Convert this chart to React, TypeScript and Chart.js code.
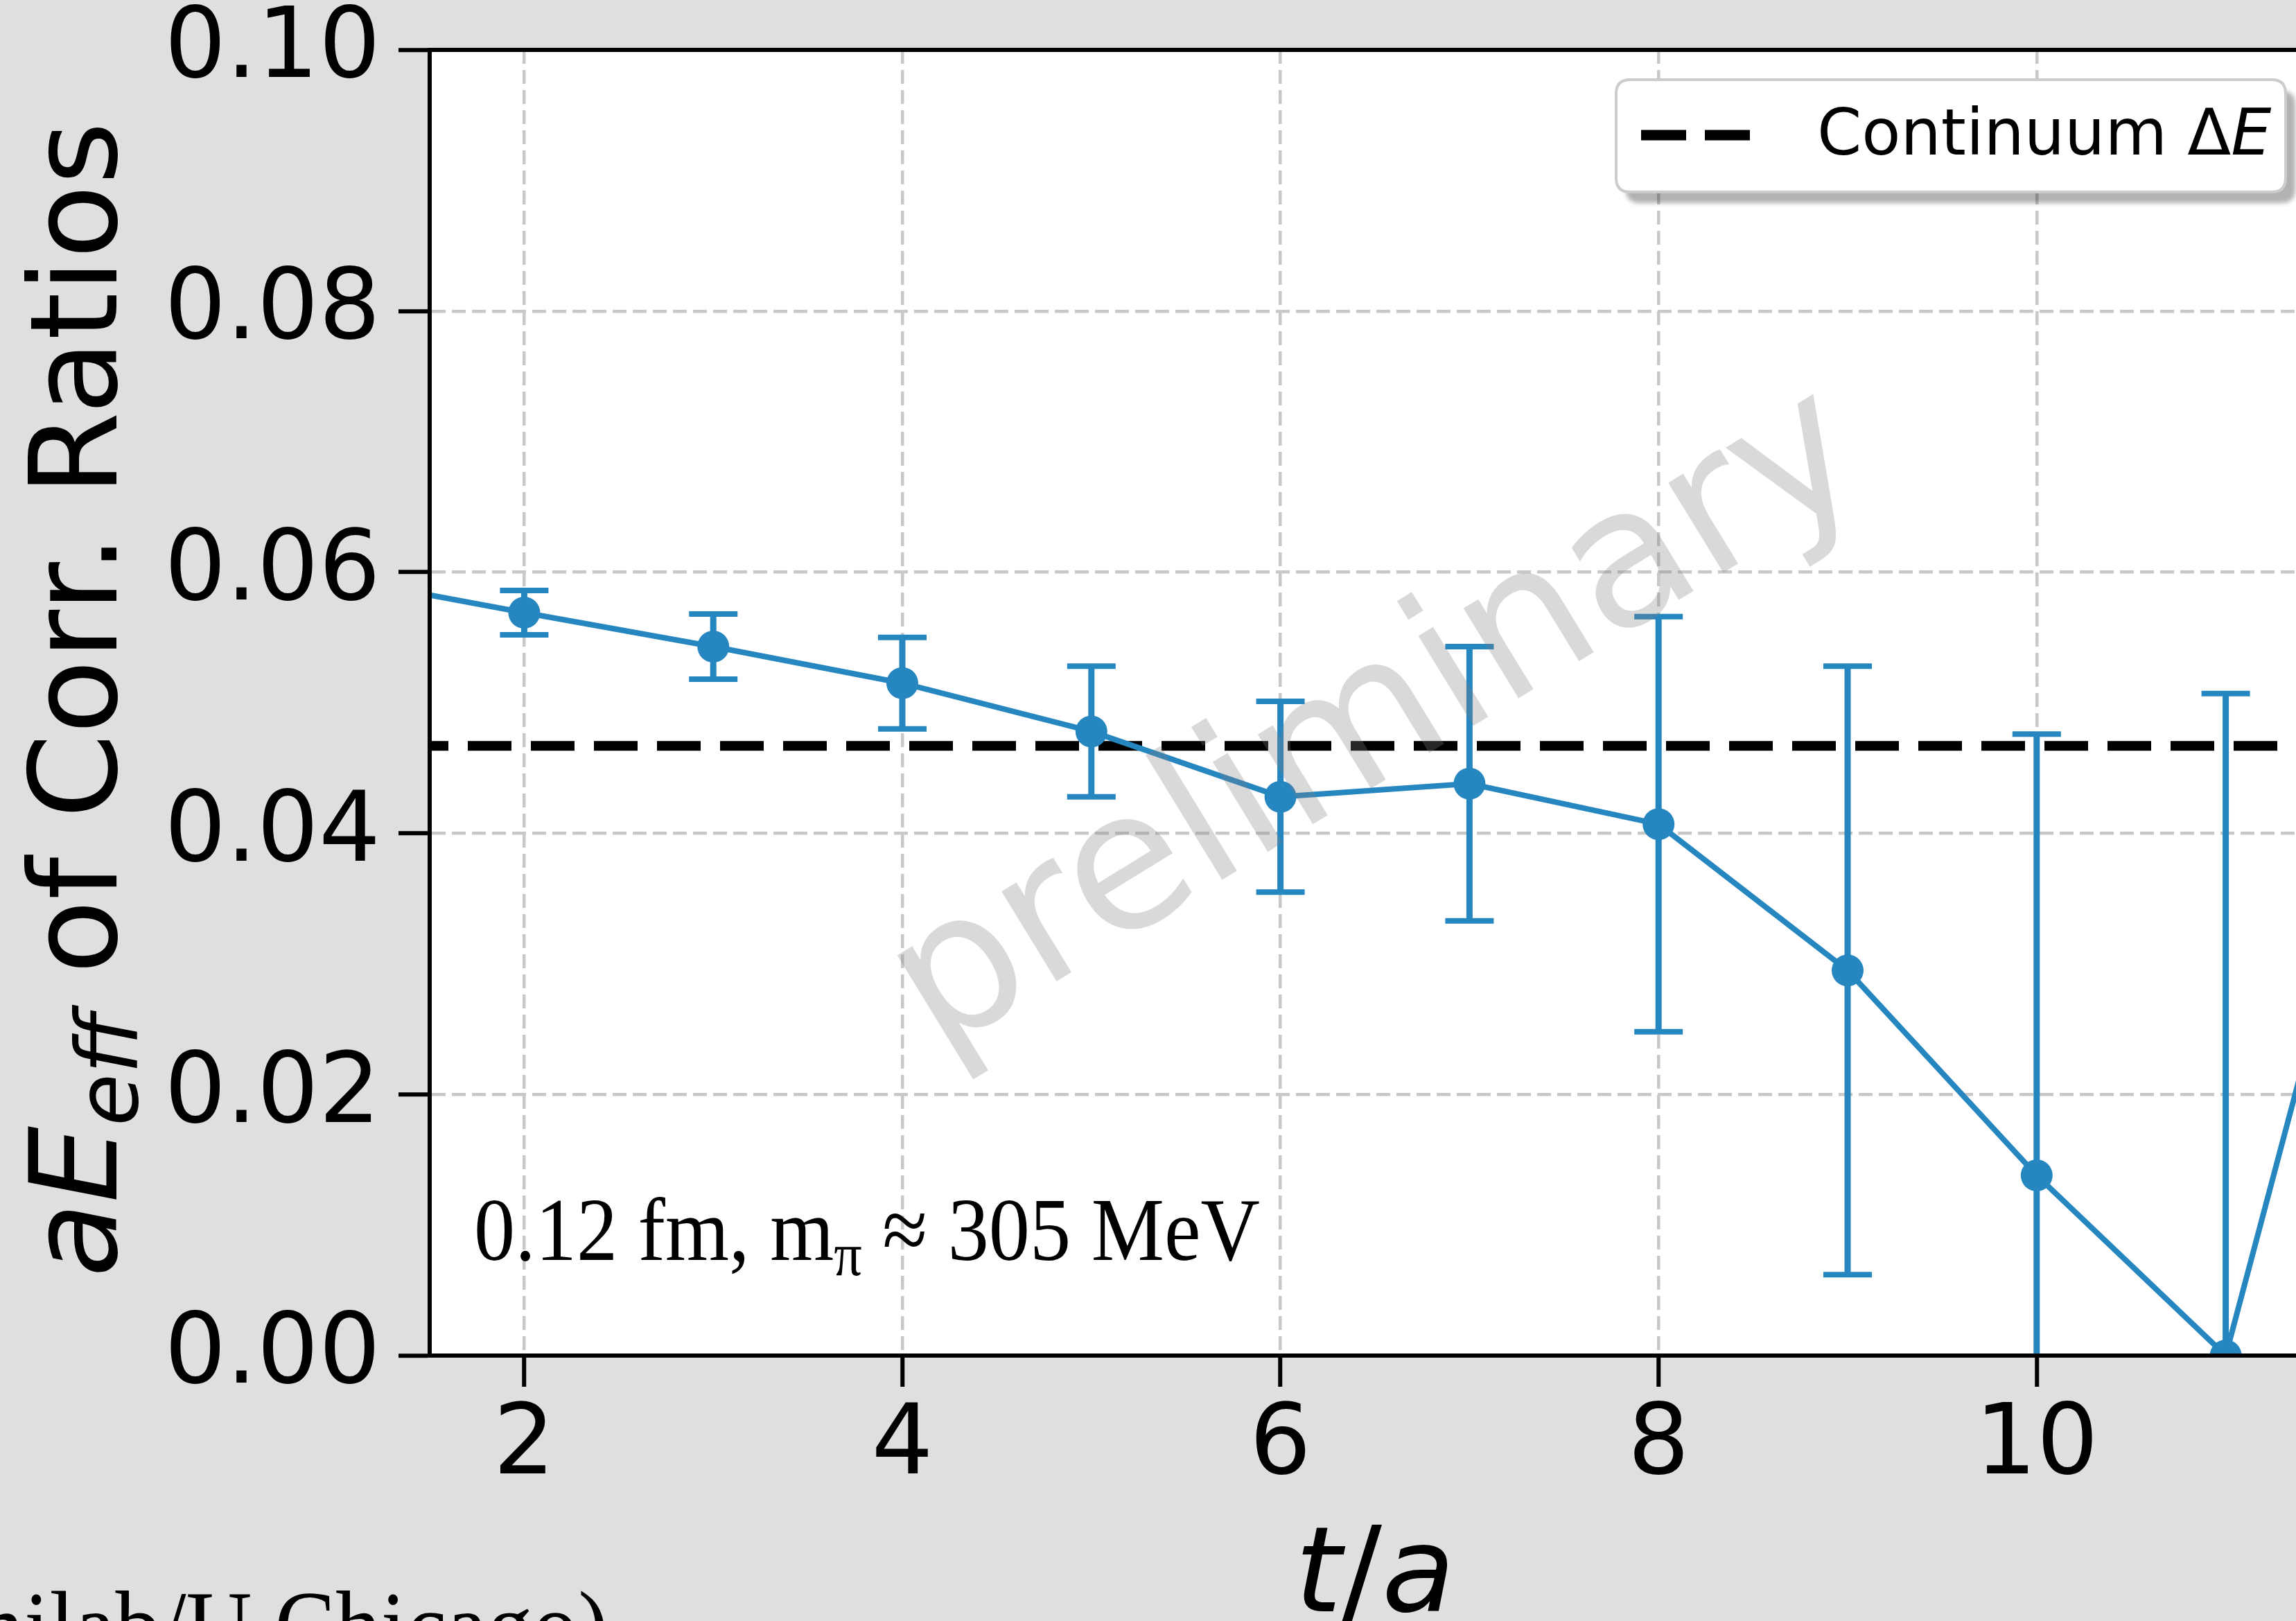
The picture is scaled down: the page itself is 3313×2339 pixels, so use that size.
import { useEffect, useRef } from "react";
import { Chart, registerables } from "chart.js";

Chart.register(...registerables);

// ---- data -------------------------------------------------------------
const T_STEPS = [1, 2, 3, 4, 5, 6, 7, 8, 9, 10, 11, 12];
const E_EFF = [0.0596, 0.0569, 0.0543, 0.0515, 0.0478, 0.0428, 0.0438, 0.0407, 0.0295, 0.0138, 0.0, 0.0545];
const E_ERR = [0.0013, 0.0017, 0.0025, 0.0035, 0.005, 0.0073, 0.0105, 0.0159, 0.0233, 0.0338, 0.0507, 0.07];
const CONTINUUM_DE = 0.0467;

const X_MIN = 1.5;
const X_MAX = 11.5;
const Y_MIN = 0;
const Y_MAX = 0.1;
const X_TICKS = [2, 4, 6, 8, 10];
const Y_TICKS = [0, 0.02, 0.04, 0.06, 0.08, 0.1];

const LEGEND_TEXT = "Continuum Δ";
const LEGEND_VAR = "E";
const ENSEMBLE_MAIN = "0.12 fm, m";
const ENSEMBLE_SUB = "π";
const ENSEMBLE_TAIL = " ≈ 305 MeV";
const CREDIT = "Fermilab/U Chicago)";
const WATERMARK = "preliminary";

// ---- look -------------------------------------------------------------
const W = 3400;
const H = 2339;
const AREA = { left: 620, top: 72, right: 3348, bottom: 1956 };
const BLUE = "rgb(37,134,192)";
const GRID = "#c8c8c8";
const FIG_BG = "#dfdfdf";
const SANS = "'DejaVu Sans'";
const SERIF = "'Liberation Serif'";
const TICK_FONT = 140;
const LABEL_FONT = 175;

const roundRect = (ctx: CanvasRenderingContext2D, x: number, y: number, w: number, h: number, r: number) => {
  ctx.beginPath();
  ctx.moveTo(x + r, y);
  ctx.lineTo(x + w - r, y);
  ctx.quadraticCurveTo(x + w, y, x + w, y + r);
  ctx.lineTo(x + w, y + h - r);
  ctx.quadraticCurveTo(x + w, y + h, x + w - r, y + h);
  ctx.lineTo(x + r, y + h);
  ctx.quadraticCurveTo(x, y + h, x, y + h - r);
  ctx.lineTo(x, y + r);
  ctx.quadraticCurveTo(x, y, x + r, y);
  ctx.closePath();
};

const backgroundPlugin = {
  id: "panelBackground",
  beforeDraw(chart: any) {
    const { ctx, chartArea: a } = chart;
    ctx.save();
    ctx.fillStyle = FIG_BG;
    ctx.fillRect(0, 0, chart.width, chart.height);
    ctx.fillStyle = "#ffffff";
    ctx.fillRect(a.left, a.top, a.right - a.left, a.bottom - a.top);
    ctx.restore();
  },
};

const errorBarPlugin = {
  id: "errorBars",
  beforeDatasetDraw(chart: any, args: any) {
    if (args.index !== 0) return;
    const { ctx, chartArea: a, scales } = chart;
    const x = scales.x;
    const y = scales.y;
    ctx.save();
    ctx.beginPath();
    ctx.rect(a.left, a.top, a.right - a.left, a.bottom - a.top);
    ctx.clip();
    ctx.strokeStyle = BLUE;
    ctx.lineCap = "butt";
    T_STEPS.forEach((t, i) => {
      const px = x.getPixelForValue(t);
      const top = y.getPixelForValue(E_EFF[i] + E_ERR[i]);
      const bot = y.getPixelForValue(E_EFF[i] - E_ERR[i]);
      ctx.lineWidth = 9;
      ctx.beginPath();
      ctx.moveTo(px, top);
      ctx.lineTo(px, bot);
      ctx.stroke();
      ctx.lineWidth = 8;
      ctx.beginPath();
      ctx.moveTo(px - 35, top);
      ctx.lineTo(px + 35, top);
      ctx.moveTo(px - 35, bot);
      ctx.lineTo(px + 35, bot);
      ctx.stroke();
    });
    ctx.restore();
  },
};

const watermarkPlugin = {
  id: "watermark",
  afterDatasetsDraw(chart: any) {
    const { ctx, chartArea: a } = chart;
    const cx = (a.left + a.right) / 2 + 6;
    const cy = (a.top + a.bottom) / 2 + 32;
    ctx.save();
    ctx.beginPath();
    ctx.rect(a.left, a.top, a.right - a.left, a.bottom - a.top);
    ctx.clip();
    ctx.translate(cx, cy);
    ctx.rotate((-31.5 * Math.PI) / 180);
    ctx.font = `278px ${SANS}`;
    ctx.fillStyle = "rgba(128,128,128,0.3)";
    ctx.textAlign = "center";
    ctx.textBaseline = "middle";
    ctx.fillText(WATERMARK, 0, 0);
    ctx.restore();
  },
};

const decorPlugin = {
  id: "decor",
  afterDraw(chart: any) {
    const { ctx, chartArea: a } = chart;
    ctx.save();

    // top and right spines
    ctx.strokeStyle = "#000";
    ctx.lineWidth = 6;
    ctx.beginPath();
    ctx.moveTo(a.left - 3, a.top);
    ctx.lineTo(a.right + 3, a.top);
    ctx.moveTo(a.right, a.top);
    ctx.lineTo(a.right, a.bottom);
    ctx.stroke();

    // y-axis title: aE_eff of Corr. Ratios
    const yl = LABEL_FONT;
    const yParts = [
      { text: "a", font: `italic ${yl}px ${SANS}`, dy: 0 },
      { text: "E", font: `italic ${yl}px ${SANS}`, dy: 0 },
      { text: "eff", font: `italic ${yl * 0.7}px ${SANS}`, dy: yl * 0.17 },
      { text: " of Corr. Ratios", font: `${yl}px ${SANS}`, dy: 0 },
    ];
    ctx.save();
    ctx.translate(168, (a.top + a.bottom) / 2 - 5);
    ctx.rotate(-Math.PI / 2);
    ctx.fillStyle = "#000";
    ctx.textBaseline = "alphabetic";
    ctx.textAlign = "left";
    let total = 0;
    yParts.forEach((p) => {
      ctx.font = p.font;
      total += ctx.measureText(p.text).width;
    });
    let cur = -total / 2;
    yParts.forEach((p) => {
      ctx.font = p.font;
      ctx.fillText(p.text, cur, p.dy);
      cur += ctx.measureText(p.text).width;
    });
    ctx.restore();

    // x-axis title: t/a
    const xl = 172;
    const xParts = [
      { text: "t", font: `italic ${xl}px ${SANS}` },
      { text: "/", font: `${xl}px ${SANS}` },
      { text: "a", font: `italic ${xl}px ${SANS}` },
    ];
    ctx.save();
    ctx.fillStyle = "#000";
    ctx.textBaseline = "alphabetic";
    ctx.textAlign = "left";
    let xt = 0;
    xParts.forEach((p) => {
      ctx.font = p.font;
      xt += ctx.measureText(p.text).width;
    });
    let xc = (a.left + a.right) / 2 - xt / 2;
    xParts.forEach((p) => {
      ctx.font = p.font;
      ctx.fillText(p.text, xc, 2325);
      xc += ctx.measureText(p.text).width;
    });
    ctx.restore();

    // ensemble annotation
    ctx.save();
    ctx.fillStyle = "#000";
    ctx.textBaseline = "alphabetic";
    ctx.translate(a.left + 64, a.bottom - 138);
    ctx.scale(0.91, 1);
    let ex = 0;
    ctx.font = `130px ${SERIF}`;
    ctx.fillText(ENSEMBLE_MAIN, ex, 0);
    ex += ctx.measureText(ENSEMBLE_MAIN).width;
    ctx.font = `88px ${SERIF}`;
    ctx.fillText(ENSEMBLE_SUB, ex, 22);
    ex += ctx.measureText(ENSEMBLE_SUB).width;
    ctx.font = `130px ${SERIF}`;
    ctx.fillText(ENSEMBLE_TAIL, ex, 0);
    ctx.restore();

    // credit line, cut by the lower edge
    ctx.save();
    ctx.fillStyle = "#000";
    ctx.textBaseline = "alphabetic";
    ctx.textAlign = "right";
    ctx.scale(0.9, 1);
    ctx.font = `146px ${SERIF}`;
    ctx.fillText(CREDIT, 878 / 0.9, 2397);
    ctx.restore();

    // legend
    const bw = 966;
    const bh = 162;
    const bx = a.right - 50 - bw;
    const by = a.top + 43;
    ctx.save();
    ctx.filter = "blur(3px)";
    ctx.fillStyle = "rgba(0,0,0,0.3)";
    roundRect(ctx, bx + 14, by + 16, bw, bh, 20);
    ctx.fill();
    ctx.restore();
    ctx.save();
    ctx.fillStyle = "#ffffff";
    ctx.strokeStyle = "#cccccc";
    ctx.lineWidth = 4;
    roundRect(ctx, bx, by, bw, bh, 20);
    ctx.fill();
    ctx.stroke();
    ctx.strokeStyle = "#000";
    ctx.lineWidth = 15;
    ctx.setLineDash([65, 27]);
    ctx.beginPath();
    ctx.moveTo(bx + 36, by + 80);
    ctx.lineTo(bx + 194, by + 80);
    ctx.stroke();
    ctx.setLineDash([]);
    ctx.fillStyle = "#000";
    ctx.textBaseline = "alphabetic";
    ctx.font = `92px ${SANS}`;
    ctx.fillText(LEGEND_TEXT, bx + 290, by + 108);
    const lw = ctx.measureText(LEGEND_TEXT).width;
    ctx.font = `italic 92px ${SANS}`;
    ctx.fillText(LEGEND_VAR, bx + 290 + lw, by + 108);
    ctx.restore();

    ctx.restore();
  },
};

export default function App() {
  const canvasRef = useRef<HTMLCanvasElement | null>(null);

  useEffect(() => {
    document.body.style.margin = "0";
    const canvas = canvasRef.current;
    if (!canvas) return;

    const chart = new Chart(canvas, {
      type: "line",
      data: {
        datasets: [
          {
            label: "aE_eff",
            data: T_STEPS.map((t, i) => ({ x: t, y: E_EFF[i] })),
            borderColor: BLUE,
            backgroundColor: BLUE,
            borderWidth: 8,
            pointRadius: 23,
            pointBorderWidth: 0,
            pointBackgroundColor: BLUE,
            tension: 0,
            clip: 0,
            order: 1,
          },
          {
            label: "Continuum ΔE",
            data: [
              { x: X_MIN, y: CONTINUUM_DE },
              { x: X_MAX, y: CONTINUUM_DE },
            ],
            borderColor: "#000",
            borderWidth: 14,
            borderDash: [63, 28],
            borderDashOffset: 36,
            pointRadius: 0,
            clip: 0,
            order: 2,
          },
        ],
      },
      options: {
        responsive: false,
        maintainAspectRatio: false,
        devicePixelRatio: 1,
        animation: false,
        events: [],
        layout: {
          padding: { left: 0, top: AREA.top, right: W - AREA.right, bottom: 0 },
        },
        plugins: {
          legend: { display: false },
          tooltip: { enabled: false },
        },
        scales: {
          x: {
            type: "linear",
            min: X_MIN,
            max: X_MAX,
            afterBuildTicks: (s: any) => {
              s.ticks = X_TICKS.map((v) => ({ value: v }));
            },
            afterFit: (s: any) => {
              s.height = H - AREA.bottom;
              s.paddingLeft = 0;
              s.paddingRight = 0;
              s.paddingTop = 0;
              s.paddingBottom = 0;
            },
            grid: {
              color: GRID,
              lineWidth: 4.5,
              drawTicks: true,
              tickLength: 45,
              tickWidth: 6,
              tickColor: "#000",
            },
            border: { display: true, color: "#000", width: 6, dash: [20, 9], z: 1 },
            ticks: {
              color: "#000",
              font: { family: "DejaVu Sans", size: TICK_FONT, lineHeight: 1 },
              padding: 19,
              maxRotation: 0,
              autoSkip: false,
              callback: (v: any) => String(v),
            },
          },
          y: {
            type: "linear",
            min: Y_MIN,
            max: Y_MAX,
            afterBuildTicks: (s: any) => {
              s.ticks = Y_TICKS.map((v) => ({ value: v }));
            },
            afterFit: (s: any) => {
              s.width = AREA.left;
              s.paddingLeft = 0;
              s.paddingRight = 0;
              s.paddingTop = 0;
              s.paddingBottom = 0;
            },
            grid: {
              color: GRID,
              lineWidth: 4.5,
              drawTicks: true,
              tickLength: 45,
              tickWidth: 6,
              tickColor: "#000",
            },
            border: { display: true, color: "#000", width: 6, dash: [20, 9], z: 1 },
            ticks: {
              color: "#000",
              font: { family: "DejaVu Sans", size: TICK_FONT, lineHeight: 1 },
              padding: 26,
              labelOffset: 3,
              autoSkip: false,
              callback: (v: any) => Number(v).toFixed(2),
            },
          },
        },
      },
      plugins: [backgroundPlugin, errorBarPlugin, watermarkPlugin, decorPlugin],
    } as any);

    return () => chart.destroy();
  }, []);

  return (
    <div
      style={{
        position: "fixed",
        left: 0,
        top: 0,
        width: "100vw",
        height: "100vh",
        overflow: "hidden",
        background: FIG_BG,
      }}
    >
      <canvas ref={canvasRef} width={W} height={H} style={{ display: "block", width: `${W}px`, height: `${H}px` }} />
    </div>
  );
}
